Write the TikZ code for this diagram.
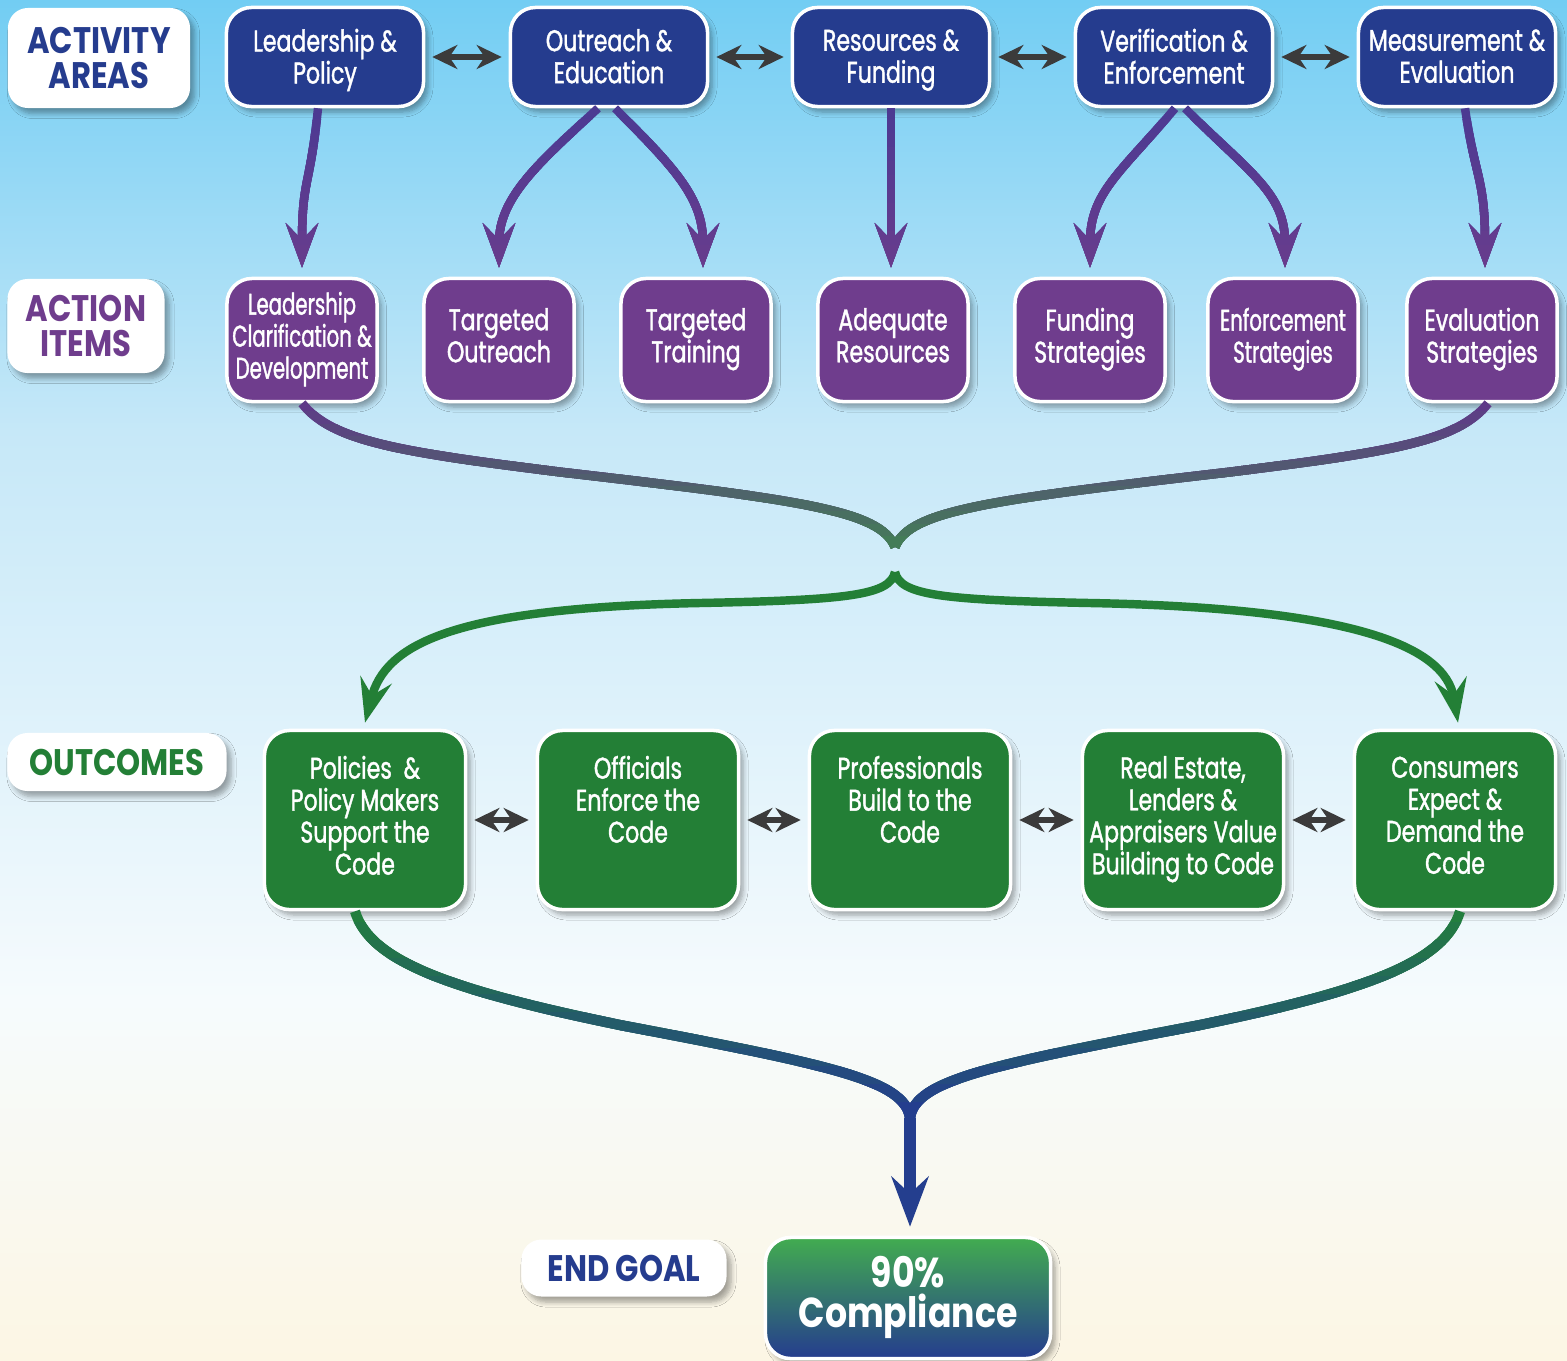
\documentclass[tikz,border=0pt]{standalone}
\usepackage{xcolor}
\usepackage{fontspec}
\newfontfamily\boxfont[FakeStretch=0.74, FakeBold=1.3]{Poppins}
\newfontfamily\narrowfont[FakeStretch=0.66, FakeBold=1.3]{Poppins}
\newfontfamily\headfont[FakeStretch=0.83]{Poppins}
\definecolor{areablue}{RGB}{37,60,142}
\definecolor{itempurple}{RGB}{111,61,141}
\definecolor{outgreen}{RGB}{35,127,54}
\definecolor{tipgray}{RGB}{59,59,59}
\definecolor{linktop}{RGB}{76,58,146}
\definecolor{linkend}{RGB}{104,60,141}
\definecolor{mixpurple}{RGB}{94,58,136}
\definecolor{mixgreen}{RGB}{68,124,88}
\definecolor{lowgreen}{RGB}{35,126,62}
\definecolor{lowblue}{RGB}{36,62,142}
\definecolor{goalgreen}{RGB}{66,172,80}
\definecolor{goalteal}{RGB}{39,125,118}
\definecolor{skytop}{RGB}{114,205,243}
\definecolor{skymid}{RGB}{198,232,248}
\definecolor{skylow}{RGB}{246,251,253}
\definecolor{cream}{RGB}{252,246,228}
\usepackage{tikz}
\usetikzlibrary{arrows.meta}
\usetikzlibrary{calc}
\usetikzlibrary{shadows}
\usetikzlibrary{shadows.blur}

\begin{document}
\begin{tikzpicture}[x=0.01cm, y=-0.01cm,
    soft/.style={blur shadow={shadow blur steps=6, shadow xshift=0.045cm,
        shadow yshift=-0.055cm, shadow blur radius=0.05cm, shadow opacity=35}},
    tag/.style={soft, fill=white, rounded corners=0.2cm, align=center,
        inner sep=0pt, font={\headfont\bfseries\fontsize{10.5}{9.7}\selectfont}},
    panel/.style={soft, draw=white, line width=1pt, rounded corners=0.25cm,
        inner sep=0pt, align=center, text=white, execute at begin node=\strut,
        execute at end node=\strut,
        font={\boxfont\fontsize{8.5}{9.1}\selectfont}},
    areabox/.style={panel, fill=areablue, minimum width=1.97cm, minimum height=0.99cm,
        text depth=0.5pt},
    itembox/.style={panel, fill=itempurple, minimum width=1.5cm,
        minimum height=1.23cm},
    outbox/.style={panel, fill=outgreen, minimum width=2.01cm,
        minimum height=1.79cm},
    goalbox/.style={panel, top color=goalgreen, middle color=goalteal,
        bottom color=areablue, minimum width=2.85cm, minimum height=1.21cm,
        font={\headfont\bfseries\fontsize{11.9}{11.4}\selectfont}},
    pair/.style={tipgray, line width=1.7pt, shorten <=0.07cm, shorten >=0.07cm,
        {Stealth[length=0.25cm, width=0.24cm, inset=0.08cm]}-{Stealth[length=0.25cm, width=0.24cm, inset=0.08cm]}},
    link/.style={line width=2.4pt,
        -{Stealth[length=0.44cm, width=0.32cm, inset=0.16cm]}},
    merge/.style={line width=2.6pt},
    sprout/.style={outgreen, line width=2.4pt,
        -{Stealth[length=0.44cm, width=0.32cm, inset=0.16cm]}},
    fuse/.style={line width=2.9pt},
    finale/.style={lowblue, line width=3.4pt,
        -{Stealth[length=0.5cm, width=0.37cm, inset=0.17cm]}}]

    \useasboundingbox (0,0) rectangle (1567,1360);
    \shade [top color=skytop, bottom color=skymid] (0,0) rectangle (1567,430);
    \shade [top color=skymid, bottom color=skylow] (0,430) rectangle (1567,1000);
    \shade [top color=skylow, bottom color=cream] (0,1000) rectangle (1567,1360);

    \node [tag, text=areablue, minimum width=1.82cm, minimum height=1cm]
    (activity) at (99,58) {ACTIVITY\\AREAS};
    \node [tag, text=itempurple, minimum width=1.57cm, minimum height=0.94cm]
    (action) at (86,326) {ACTION\\ITEMS};
    \node [tag, text=outgreen, minimum width=2.19cm, minimum height=0.58cm]
    (outcomes) at (117,762) {OUTCOMES};
    \node [tag, text=areablue, minimum width=2.05cm, minimum height=0.57cm]
    (endgoal) at (624,1268) {END GOAL};

    \node [areabox] (lead) at (325,57) {Leadership \&\\Policy};
    \node [areabox] (outreach) at (609,57) {Outreach \&\\Education};
    \node [areabox] (resources) at (891,57) {Resources \&\\Funding};
    \node [areabox] (verify) at (1174,57) {Verification \&\\Enforcement};
    \node [areabox] (measure) at (1457,57) {Measurement \&\\Evaluation};

    \node [itembox, font={\narrowfont\fontsize{8.5}{9.1}\selectfont}]
    (clarify) at (302,340) {Leadership\\Clarification \&\\Development};
    \node [itembox] (tout) at (499,340) {Targeted\\Outreach};
    \node [itembox] (ttrain) at (696,340) {Targeted\\Training};
    \node [itembox] (adequate) at (893,340) {Adequate\\Resources};
    \node [itembox] (fund) at (1090,340) {Funding\\Strategies};
    \node [itembox, font={\narrowfont\fontsize{8.5}{9.1}\selectfont}]
    (enforce) at (1283,340) {Enforcement\\Strategies};
    \node [itembox] (evaluate) at (1482,340) {Evaluation\\Strategies};

    \node [outbox] (policies) at (365,820) {Policies ~\&\\Policy Makers\\Support the\\Code};
    \node [outbox] (officials) at (638,820) {Officials\\Enforce the\\Code\\\mbox{}};
    \node [outbox] (builders) at (910,820) {Professionals\\Build to the\\Code\\\mbox{}};
    \node [outbox] (lenders) at (1183,820) {Real Estate,\\Lenders \&\\Appraisers Value\\Building to Code};
    \node [outbox] (consumers) at (1455,820) {Consumers\\Expect \&\\Demand the\\Code};

    \node [goalbox] (compliance) at (908,1298) {90\%\\Compliance};

    \coordinate (merge) at (895,547);
    \coordinate (split) at (895,572);
    \coordinate (joint) at (910,1118);

    \foreach \a/\b in {lead/outreach, outreach/resources, resources/verify, verify/measure,
        policies/officials, officials/builders, builders/lenders, lenders/consumers}
    \draw [pair] (\a) -- (\b);

    \newcommand\branches{
      \draw [link] ([xshift=-0.07cm]lead.south) .. controls +(-8,80) and +(0,-90)
      .. ([yshift=0.09cm]clarify.north);
      \draw [link] ([xshift=-0.11cm]outreach.south) .. controls +(-60,55) and +(0,-70)
      .. ([yshift=0.09cm]tout.north);
      \draw [link] ([xshift=0.06cm]outreach.south) .. controls +(60,60) and +(0,-70)
      .. ([xshift=0.07cm, yshift=0.09cm]ttrain.north);
      \draw [link] (resources.south) -- ([yshift=0.09cm]resources.south |- adequate.north);
      \draw [link] ([xshift=0.01cm]verify.south) .. controls +(-55,65) and +(0,-75)
      .. ([yshift=0.09cm]fund.north);
      \draw [link] ([xshift=0.11cm]verify.south) .. controls +(65,65) and +(0,-75)
      .. ([xshift=0.02cm, yshift=0.09cm]enforce.north);
      \draw [link] ([xshift=0.08cm]measure.south) .. controls +(10,70) and +(0,-90)
      .. ([xshift=0.03cm, yshift=0.09cm]evaluate.north);
    }
    \newcommand\gather{
      \draw [merge] (clarify.south) .. controls +(30,38) and (400,452) .. (560,472)
      .. controls (800,500) and (880,510) .. (merge);
      \draw [merge] ([xshift=0.06cm]evaluate.south) .. controls +(-30,38) and (1390,452)
      .. (1230,472) .. controls (990,500) and (910,510) .. (merge);
    }
    \newcommand\funnel{
      \draw [fuse] ([xshift=-0.1cm]policies.south) .. controls +(15,50) and (450,990)
      .. (620,1025) .. controls (830,1065) and (905,1080) .. (joint);
      \draw [fuse] ([xshift=0.05cm]consumers.south) .. controls +(-15,50) and (1370,990)
      .. (1200,1025) .. controls (990,1065) and (915,1080) .. (joint);
    }

    \foreach \k in {0,...,11} {
      \pgfmathtruncatemacro\share{100*\k/11}
      \begin{scope}[color=linkend!\share!linktop]
        \clip (0,{106+\k*14-1}) rectangle (1567,{106+(\k+1)*14+40});
        \branches
      \end{scope}
      \begin{scope}[color=mixgreen!\share!mixpurple]
        \clip (0,{400+\k*12.5-1}) rectangle (1567,{400+(\k+1)*12.5+40});
        \gather
      \end{scope}
      \begin{scope}[color=lowblue!\share!lowgreen]
        \clip (0,{905+\k*18-1}) rectangle (1567,{905+(\k+1)*18+40});
        \funnel
      \end{scope}
    }

    \draw [sprout] (split) .. controls +(-5,23) and (850,600) .. (700,603)
    .. controls (450,608) and (385,645) .. ([yshift=0.06cm]policies.north);
    \draw [sprout] (split) .. controls +(5,23) and (940,600) .. (1090,603)
    .. controls (1350,608) and (1445,645) .. ([xshift=0.03cm, yshift=0.06cm]consumers.north);

    \draw [finale] (joint) -- ([yshift=0.09cm]joint |- compliance.north);

  \end{tikzpicture}
\end{document}
